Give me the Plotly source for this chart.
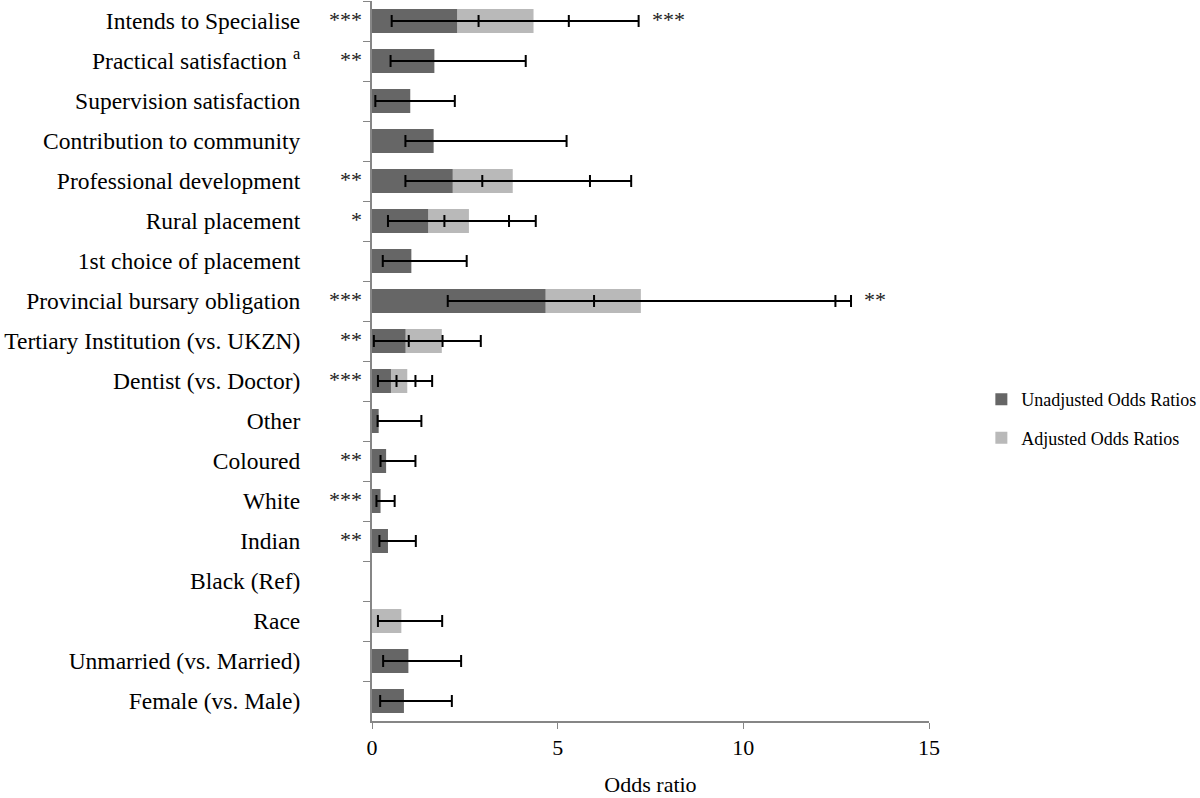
import plotly.graph_objects as go

categories = ["Intends to Specialise", "Practical satisfaction <sup>a</sup>", "Supervision satisfaction",
              "Contribution to community", "Professional development", "Rural placement",
              "1st choice of placement", "Provincial bursary obligation", "Tertiary Institution (vs. UKZN)",
              "Dentist (vs. Doctor)", "Other", "Coloured", "White", "Indian", "Black (Ref)", "Race",
              "Unmarried (vs. Married)", "Female (vs. Male)"]

unadj = [2.29, 1.68, 1.03, 1.66, 2.17, 1.51, 1.06, 4.67, 0.90, 0.51, 0.18, 0.38, 0.23, 0.43, None, None, 0.98, 0.86]
unadj_lo = [0.53, 0.50, 0.09, 0.90, 0.90, 0.43, 0.29, 2.04, 0.05, 0.16, 0.15, 0.23, 0.12, 0.20, None, None, 0.30, 0.22]
unadj_hi = [5.30, 4.14, 2.23, 5.24, 5.87, 3.69, 2.55, 12.48, 1.90, 1.17, 1.33, 1.17, 0.61, 1.18, None, None, 2.40, 2.15]

adj = [4.35, None, None, None, 3.79, 2.61, None, 7.24, 1.88, 0.95, None, None, None, None, None, 0.79, None, None]
adj_lo = [2.87, None, None, None, 2.97, 1.95, None, 5.98, 0.99, 0.66, None, None, None, None, None, 0.16, None, None]
adj_hi = [7.18, None, None, None, 6.98, 4.41, None, 12.90, 2.93, 1.62, None, None, None, None, None, 1.89, None, None]

stars_left = ["***", "**", "", "", "**", "*", "", "***", "**", "***", "", "**", "***", "**", "", "", "", ""]
stars_right = ["***", "", "", "", "", "", "", "**", "", "", "", "", "", "", "", "", "", ""]

x_ticks = [0, 5, 10, 15]

def plus(v, hi):
    return [None if a is None else h - a for a, h in zip(v, hi)]

def minus(v, lo):
    return [None if a is None else a - l for a, l in zip(v, lo)]

FONT = "Liberation Serif"
fig = go.Figure()

fig.add_trace(go.Bar(
    y=categories, x=adj, orientation="h", name="Adjusted Odds Ratios",
    marker=dict(color="#b9b9b9", line=dict(width=0)), width=0.6, legendrank=2, legendgroup="b",
    error_x=dict(type="data", symmetric=False, array=plus(adj, adj_hi),
                 arrayminus=minus(adj, adj_lo), color="black", thickness=2, width=6),
))
fig.add_trace(go.Bar(
    y=categories, x=unadj, orientation="h", name="Unadjusted Odds Ratios",
    marker=dict(color="#666666", line=dict(width=0)), width=0.6, legendrank=1, legendgroup="a",
    error_x=dict(type="data", symmetric=False, array=plus(unadj, unadj_hi),
                 arrayminus=minus(unadj, unadj_lo), color="black", thickness=2, width=6),
))

annotations = []
for cat, s in zip(categories, stars_left):
    if s:
        annotations.append(dict(x=-0.015, xref="paper", y=cat, yref="y", text=s, showarrow=False,
                                xanchor="right", yanchor="middle", yshift=2,
                                font=dict(family=FONT, size=22, color="#222")))
for cat, s, h1, h2 in zip(categories, stars_right, unadj_hi, adj_hi):
    if s:
        hi = max(v for v in (h1, h2) if v is not None)
        annotations.append(dict(x=hi, xref="x", y=cat, yref="y", text=s, showarrow=False,
                                xanchor="left", xshift=11, yanchor="middle", yshift=2,
                                font=dict(family=FONT, size=22, color="#222")))

fig.update_layout(
    barmode="overlay",
    width=1200, height=798,
    margin=dict(l=372, r=271, t=1, b=77, autoexpand=False),
    plot_bgcolor="white", paper_bgcolor="white",
    font=dict(family=FONT, size=23.5, color="black"),
    showlegend=True,
    legend=dict(x=1.094, y=0.42, xanchor="left", yanchor="middle", traceorder="grouped",
                font=dict(family=FONT, size=18), tracegroupgap=12, itemsizing="constant",
                bgcolor="rgba(0,0,0,0)"),
    annotations=annotations,
    xaxis=dict(range=[0, 15], tickvals=x_ticks, ticks="outside", ticklen=6, tickcolor="#868686",
               showline=True, linecolor="#868686", linewidth=2, showgrid=False, zeroline=False,
               automargin=False,
               title=dict(text="Odds ratio", font=dict(family=FONT, size=22), standoff=17),
               tickfont=dict(family=FONT, size=22)),
    yaxis=dict(categoryorder="array", categoryarray=categories, autorange="reversed",
               tickson="boundaries", ticks="outside", ticklen=7, tickcolor="#868686",
               showline=True, linecolor="#868686", linewidth=2, showgrid=False, zeroline=False,
               automargin=False,
               ticklabelstandoff=65, tickfont=dict(family=FONT, size=23.5)),
)

fig.write_html("out.html", config={"displayModeBar": False},
               post_script="document.body.style.margin='0';")
